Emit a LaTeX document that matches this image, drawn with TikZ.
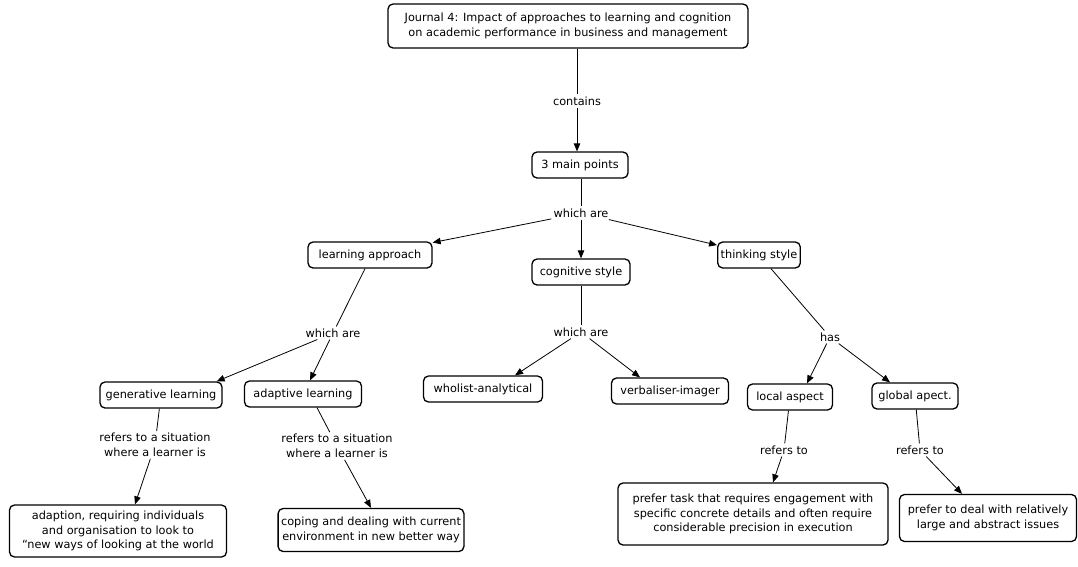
\documentclass[tikz,border=0pt]{standalone}
\usepackage{fontspec}
\setmainfont{DejaVu Sans}
\usetikzlibrary{arrows.meta,calc}
\begin{document}
\begin{tikzpicture}[x=1pt,y=-1pt,
  font=\fontsize{11.3}{14.5}\selectfont,
  concept/.style={draw, rounded corners=5pt, line width=1.3pt, align=center, inner xsep=3pt, inner ysep=3pt, fill=white},
  lbl/.style={align=center, inner sep=2pt},
  conn/.style={line width=0.8pt},
  arr/.style={line width=0.8pt, -{Triangle[length=8pt,width=6.5pt]}}]
\useasboundingbox[fill=white] (0,0) rectangle (1078,566);

% concepts
\node[concept, minimum width=360pt, minimum height=44pt] (title) at (568,26)
  {Journal 4: Impact of approaches to learning and cognition\\on academic performance in business and management};
\node[concept, minimum width=96pt, minimum height=26pt] (main) at (580,165) {3 main points};
\node[concept, minimum width=124pt, minimum height=26pt] (la) at (370,255) {learning approach};
\node[concept, minimum width=98pt, minimum height=26pt] (cs) at (581,272) {cognitive style};
\node[concept, minimum width=78pt, minimum height=26pt] (ts) at (759,255) {thinking style};
\node[concept, minimum width=122pt, minimum height=26pt] (gl) at (161,395) {generative learning};
\node[concept, minimum width=117pt, minimum height=26pt] (al) at (303,394) {adaptive learning};
\node[concept, minimum width=119pt, minimum height=26pt] (wa) at (483,389) {wholist-analytical};
\node[concept, minimum width=117pt, minimum height=26pt] (vi) at (670,391) {verbaliser-imager};
\node[concept, minimum width=85pt, minimum height=26pt] (loc) at (790,397) {local aspect};
\node[concept, minimum width=86pt, minimum height=26pt] (glo) at (915,396) {global apect.};
\node[concept, minimum width=217pt, minimum height=52pt] (adp) at (118,531)
  {adaption, requiring individuals\\and organisation to look to\\“new ways of looking at the world};
\node[concept, minimum width=180pt, minimum height=43pt] (cop) at (371,530)
  {coping and dealing with current\\environment in new better way};
\node[concept, minimum width=270pt, minimum height=62pt] (pt) at (753,514)
  {prefer task that requires engagement with\\specific concrete details and often require\\considerable precision in execution};
\node[concept, minimum width=177pt, minimum height=47pt] (pd) at (988,518)
  {prefer to deal with relatively\\large and abstract issues};

% linking phrases
\node[lbl] (contains) at (577,101) {contains};
\node[lbl] (wa1) at (581,213) {which are};
\node[lbl] (wa2) at (333,333) {which are};
\node[lbl] (wa3) at (581,332) {which are};
\node[lbl] (has) at (830,337) {has};
\node[lbl] (rf1) at (155,445) {refers to a situation\\where a learner is};
\node[lbl] (rf2) at (337,446) {refers to a situation\\where a learner is};
\node[lbl] (rf3) at (784,450) {refers to};
\node[lbl] (rf4) at (920,450) {refers to};

% connectors
\draw[conn] (title.south -| contains) -- (contains);
\draw[arr] (contains) -- (contains |- main.north);
\draw[conn] (main.south -| wa1) -- (wa1);
\draw[arr] (wa1) -- (la);
\draw[arr] (wa1) -- (cs);
\draw[arr] (wa1) -- (ts);

\draw[conn] ([xshift=-5pt]la.south) -- (wa2);
\draw[arr] (wa2) -- ([xshift=-6pt]gl.north east);
\draw[arr] (wa2) -- ([xshift=7pt]al.north);

\draw[conn] (cs) -- (wa3);
\draw[arr] (wa3) -- ([xshift=32pt]wa.north);
\draw[arr] (wa3) -- ([xshift=-30pt]vi.north);

\draw[conn] ([xshift=12pt]ts.south) -- (has);
\draw[arr] (has) -- ([xshift=17pt]loc.north);
\draw[arr] (has) -- ([xshift=-25pt]glo.north);

\draw[conn] (gl) -- (rf1);
\draw[arr] (rf1) -- ([xshift=17pt]adp.north);
\draw[conn] ([xshift=14pt]al.south) -- (rf2);
\draw[arr] (rf2) -- (cop.north);
\draw[conn] (loc) -- (rf3);
\draw[arr] (rf3) -- ([xshift=20pt]pt.north);
\draw[conn] (glo) -- (rf4);
\draw[arr] (rf4) -- ([xshift=-26pt]pd.north);
\end{tikzpicture}
\end{document}
